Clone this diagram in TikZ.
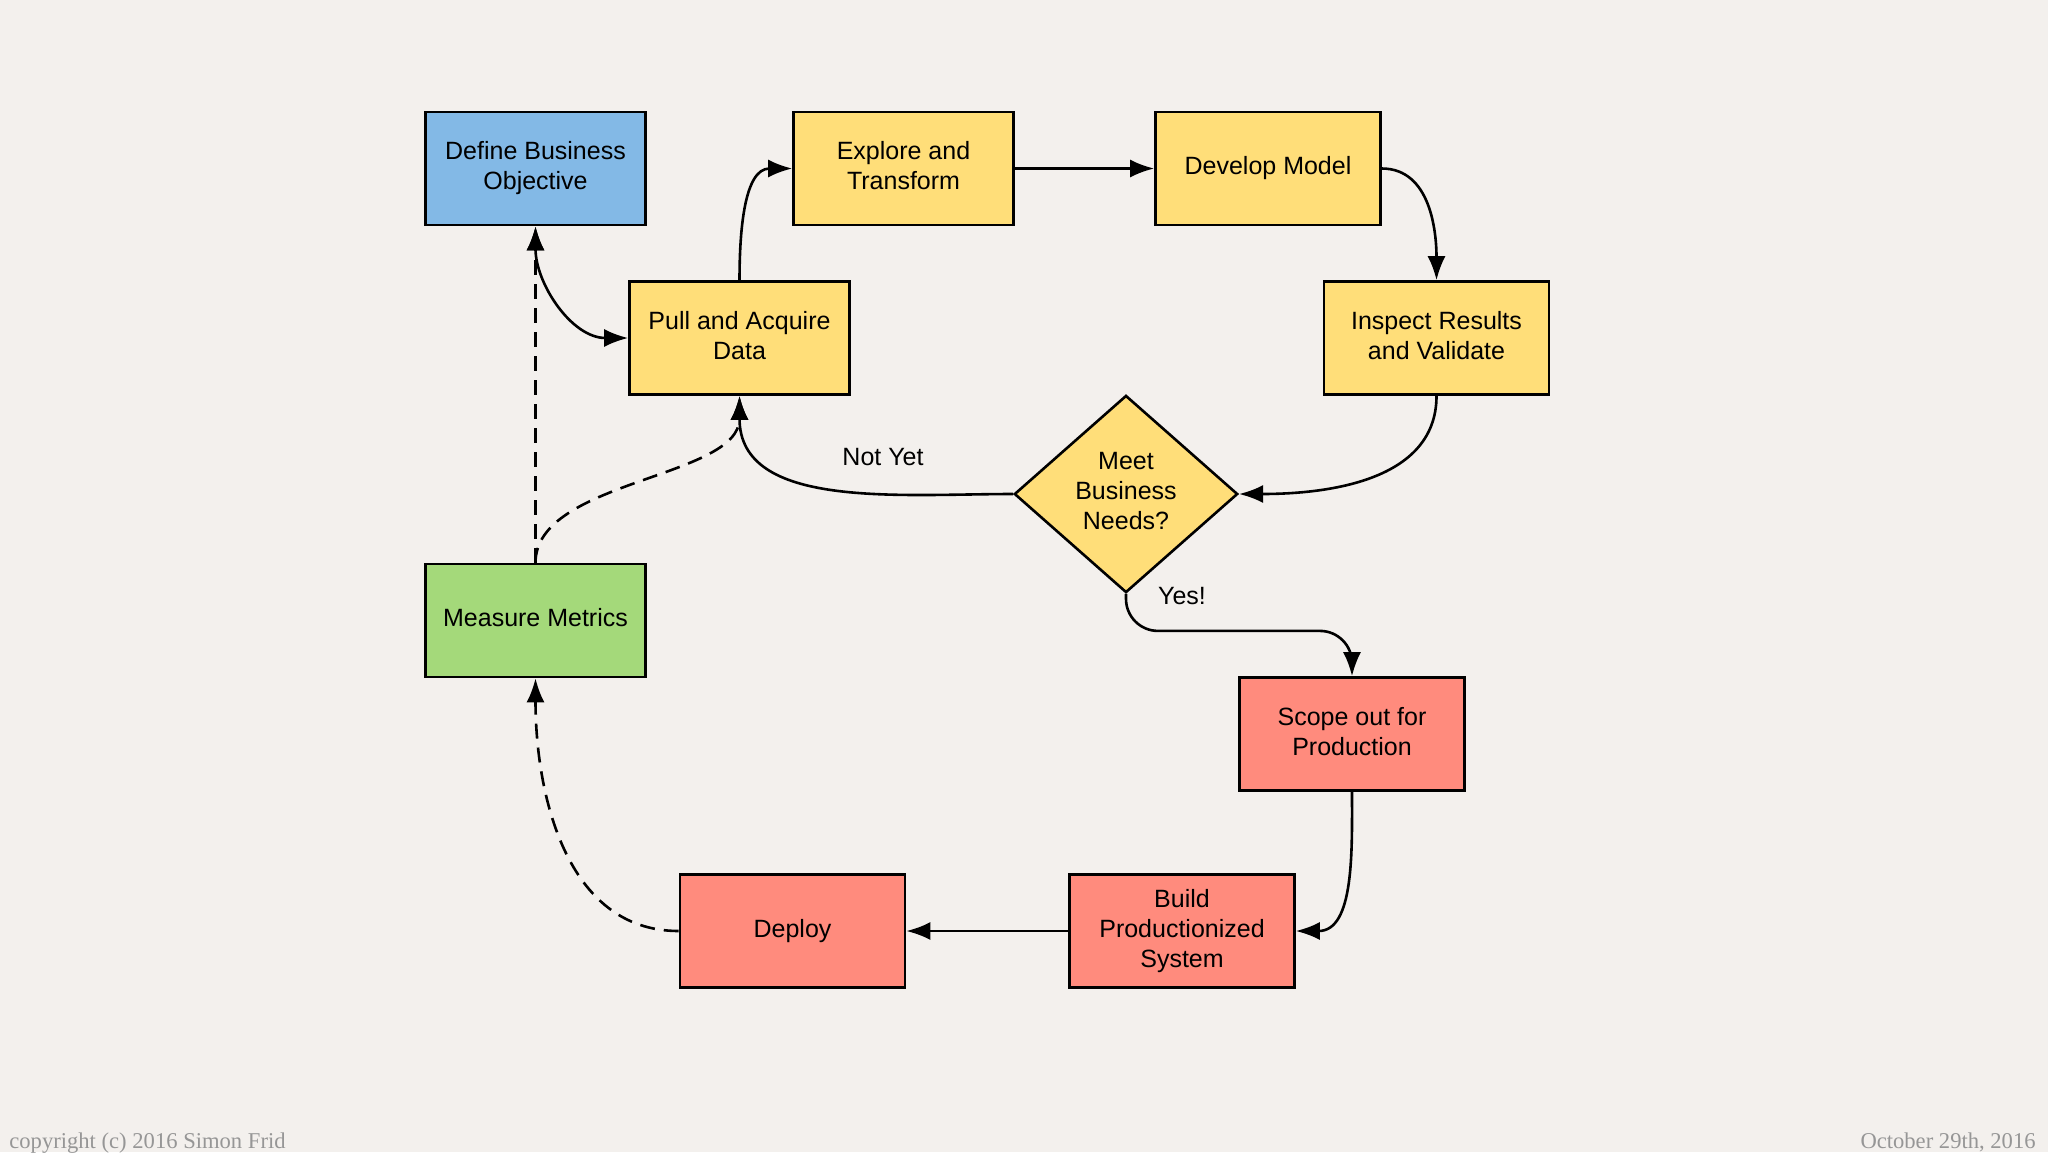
\documentclass[tikz,border=0pt]{standalone}
\usepackage{fontspec}
\setmainfont{Liberation Sans}
\newfontfamily\footfont{Liberation Serif}
\usetikzlibrary{shapes.geometric,arrows.meta}

\begin{document}
\begin{tikzpicture}[x=0.5pt,y=0.5pt,yscale=-1,xscale=1,
  box/.style={draw={rgb, 255:red, 0; green, 0; blue, 0 },line width=1.3pt,minimum width=110pt,minimum height=56.5pt,inner sep=2pt,align=center,text depth=2.6pt,font=\fontsize{12.5}{15}\selectfont},
  wide/.style={minimum width=112.5pt},
  blue/.style={fill={rgb, 255:red, 131; green, 185; blue, 230 }},
  yellow/.style={fill={rgb, 255:red, 255; green, 222; blue, 121 }},
  green/.style={fill={rgb, 255:red, 164; green, 217; blue, 122 }},
  salmon/.style={fill={rgb, 255:red, 255; green, 139; blue, 125 }},
  decide/.style={diamond,draw={rgb, 255:red, 0; green, 0; blue, 0 },line width=1.3pt,minimum width=111.7pt,minimum height=98.6pt,inner sep=0pt},
  head/.tip={Latex[length=12pt,width=9pt]},
  conn/.style={line width=1.3pt,-head},
  dashconn/.style={conn,dash pattern={on 7.5pt off 4.5pt}},
  lbl/.style={font=\fontsize{12.5}{15}\selectfont,align=center},
  foot/.style={font=\footfont\fontsize{11.3}{13}\selectfont,text={rgb, 255:red, 150; green, 150; blue, 150 },inner sep=0pt}]
\useasboundingbox (0,0) rectangle (2048,1152);
% y grows downwards: out/in 90 = down, -90 = up

%Shape: Paper
\fill [fill={rgb, 255:red, 243; green, 240; blue, 237 }] (0,0) rectangle (2048,1152);

%Shape: Rectangle
\node [box,blue] (define) at (535.5,168.5) {Define Business\\Objective};
%Shape: Rectangle
\node [box,yellow] (explore) at (903.5,168.5) {Explore and\\Transform};
%Shape: Rectangle
\node [box,wide,yellow] (develop) at (1268,168.5) {Develop Model};
%Shape: Rectangle
\node [box,yellow] (pull) at (739.5,338) {Pull and Acquire\\Data};
%Shape: Rectangle
\node [box,wide,yellow] (inspect) at (1436.5,338) {Inspect Results\\and Validate};
%Shape: Diamond
\node [decide,yellow] (meet) at (1126,494) {};
\node [lbl] (meettext) at (1126,491) {Meet\\Business\\Needs?};
%Shape: Rectangle
\node [box,green] (measure) at (535.5,620.5) {Measure Metrics};
%Shape: Rectangle
\node [box,wide,salmon] (scope) at (1352,734) {Scope out for\\Production};
%Shape: Rectangle
\node [box,wide,salmon] (build) at (1182,931) {Build\\Productionized\\System};
%Shape: Rectangle
\node [box,wide,salmon] (deploy) at (792.5,931) {Deploy};

%Curve Lines
\draw [conn,head-head] (define.south) to[out=90,in=180] (pull.west) ;
%Curve Lines
\draw [conn] (pull.north) to[out=-90,in=180] (explore.west) ;
%Straight Lines
\draw [conn] (explore.east) -- (develop.west) ;
%Curve Lines
\draw [conn] (develop.east) to[out=0,in=-90] (inspect.north) ;
%Curve Lines
\draw [conn] (inspect.south) to[out=90,in=0] (meet.east) ;
%Curve Lines
\draw [conn] (meet.west) to[out=180,in=90] (pull.south) ;
%Curve Lines
\draw [conn,rounded corners=16pt] (meet.south) -- ++(0,37) -| (scope.north) ;
%Curve Lines
\draw [conn] (scope.south) to[out=90,in=0] (build.east) ;
%Straight Lines
\draw [conn] (build.west) -- (deploy.east) ;
%Curve Lines
\draw [dashconn] (deploy.west) to[out=180,in=90] (measure.south) ;
%Straight Lines
\draw [dashconn] (measure.north) -- (define.south) ;
%Curve Lines
\draw [dashconn] (measure.north) to[out=-90,in=90,looseness=0.8] (pull.south) ;

% labels
\node [lbl] (notyet) at (883,457) {Not Yet};
\node [lbl] (yes) at (1182,596) {Yes!};

% footer
\node [foot,anchor=base west] (copyright) at (9,1148) {copyright (c) 2016 Simon Frid};
\node [foot,anchor=base east] (date) at (2036,1148) {October 29th, 2016};

\end{tikzpicture}
\end{document}
